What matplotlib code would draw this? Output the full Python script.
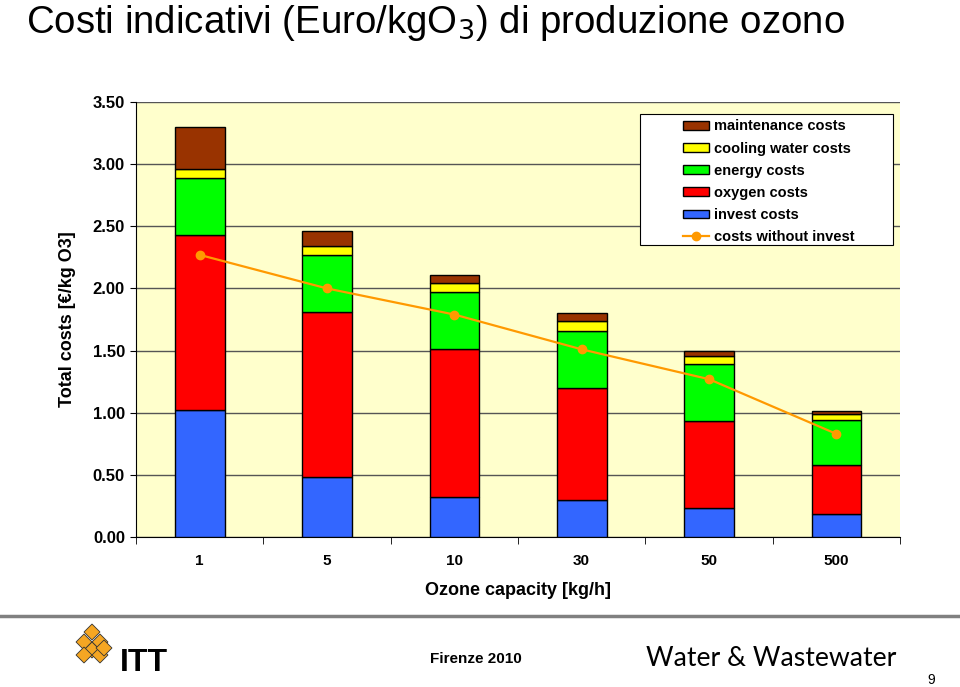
import matplotlib.pyplot as plt
from matplotlib.patches import Polygon, Rectangle
import numpy as np

plt.rcParams['font.family'] = ['Liberation Sans', 'DejaVu Sans']

# data
capacity = ['1', '5', '10', '30', '50', '500']
invest = [1.02, 0.48, 0.32, 0.295, 0.235, 0.185]
oxygen = [1.41, 1.33, 1.19, 0.905, 0.695, 0.395]
energy = [0.46, 0.46, 0.46, 0.46, 0.46, 0.36]
cooling = [0.07, 0.07, 0.07, 0.08, 0.07, 0.05]
maintenance = [0.34, 0.12, 0.07, 0.06, 0.04, 0.02]
without_invest = [2.27, 2.00, 1.79, 1.51, 1.27, 0.83]

series = [
    ('invest costs', invest, '#3366FF'),
    ('oxygen costs', oxygen, '#FF0000'),
    ('energy costs', energy, '#00FF00'),
    ('cooling water costs', cooling, '#FFFF00'),
    ('maintenance costs', maintenance, '#993300'),
]

fig = plt.figure(figsize=(9.6, 6.87), dpi=100)
ax = fig.add_axes([0.1417, 0.2183, 0.7958, 0.6332])
ax.set_facecolor('#FFFFCC')

x = np.arange(len(capacity))
bottom = np.zeros(len(capacity))
handles = {}
for name, vals, col in series:
    b = ax.bar(x, vals, 0.39, bottom=bottom, color=col, edgecolor='black',
               linewidth=1, zorder=3, label=name)
    handles[name] = b
    bottom += np.array(vals)

ln, = ax.plot(x, without_invest, color='#FF9900', lw=1.6, marker='o',
              markersize=6, zorder=4, label='costs without invest')

ax.set_xlim(-0.5, len(capacity) - 0.5)
ax.set_ylim(0, 3.5)
ax.set_yticks(np.arange(0, 3.51, 0.5))
ax.set_yticklabels(['%.2f' % v for v in np.arange(0, 3.51, 0.5)],
                   fontsize=12, fontweight='bold')
ax.set_xticks(x)
ax.set_xticklabels(capacity, fontsize=11, fontweight='bold')
ax.tick_params(axis='x', length=0, pad=12)
ax.set_xticks(np.arange(-0.5, len(capacity)), minor=True)
ax.tick_params(axis='x', which='minor', length=5, direction='out')
ax.tick_params(axis='y', length=4, direction='out', pad=4)
ax.yaxis.grid(True, color='#555555', lw=1, zorder=1)
for s in ['top', 'right']:
    ax.spines[s].set_visible(False)

ax.set_xlabel('Ozone capacity [kg/h]', fontsize=13, fontweight='bold',
              labelpad=10)
ax.set_ylabel('Total costs [€/kg O3]', fontsize=13, fontweight='bold',
              labelpad=12)

# legend box drawn separately (Excel style wide left margin)
ax.add_patch(Rectangle((0.6597, 0.6713), 0.3311, 0.3011, transform=ax.transAxes,
                       facecolor='white', edgecolor='black', lw=0.8,
                       zorder=4.5, clip_on=False))
order = ['maintenance costs', 'cooling water costs', 'energy costs',
         'oxygen costs', 'invest costs']
leg = ax.legend([handles[n] for n in order] + [ln], order + ['costs without invest'],
                loc='upper left', bbox_to_anchor=(0.716, 0.96),
                prop={'weight': 'bold', 'size': 10.5}, frameon=False,
                handlelength=1.8, handleheight=0.55, labelspacing=0.56,
                borderpad=0, handletextpad=0.3, borderaxespad=0)
leg.set_zorder(5)

# title and slide footer
fig.text(0.027, 0.995, 'Costi indicativi (Euro/kgO$_3$) di produzione ozono',
         fontsize=27.6, ha='left', va='top')
fig.add_artist(plt.Line2D([0, 1], [1 - 616 / 687] * 2, color='#808080',
                          lw=2.5, transform=fig.transFigure))

# ITT logo: a few orange diamonds
dw, dh = 8 / 960, 8 / 687
for cx, cy in [(92, 632), (84, 642), (100, 642), (92, 650), (84, 655),
               (100, 655), (104, 648)]:
    fx, fy = cx / 960, 1 - cy / 687
    fig.add_artist(Polygon([(fx - dw, fy), (fx, fy + dh), (fx + dw, fy),
                            (fx, fy - dh)], closed=True, facecolor='#F5A623',
                           edgecolor='#333333', lw=0.6,
                           transform=fig.transFigure))
fig.text(120 / 960, 1 - 663 / 687, 'ITT', fontsize=23, fontweight='bold',
         ha='left', va='center')
fig.text(430 / 960, 1 - 659 / 687, 'Firenze 2010', fontsize=11,
         fontweight='bold', ha='left', va='center')
fig.text(646 / 960, 1 - 658 / 687, 'Water & Wastewater', fontsize=19.2,
         family='Lato', ha='left', va='center')
fig.text(927 / 960, 1 - 680 / 687, '9', fontsize=10, ha='left', va='center')

fig.savefig('out.png', dpi=100)
